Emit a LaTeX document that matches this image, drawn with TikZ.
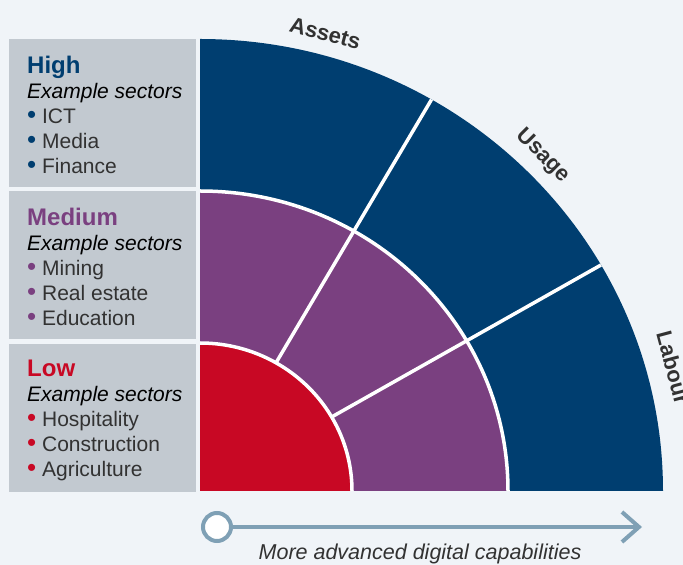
\documentclass[tikz,border=0pt]{standalone}
\usepackage{fontspec}
\setmainfont{Liberation Sans}
\usepackage{xcolor}
\usetikzlibrary{arrows.meta}
\definecolor{myblue}{RGB}{0, 62, 112}
\definecolor{mypurple}{RGB}{122, 64, 128}
\definecolor{myred}{RGB}{200, 8, 36}
\definecolor{mygray}{RGB}{194, 201, 208}
\definecolor{mybg}{RGB}{240, 244, 248}
\definecolor{myarrow}{RGB}{127, 160, 181}
\definecolor{mytext}{RGB}{50, 50, 50}

\begin{document}
\begin{tikzpicture}[x=1pt,y=1pt,
    levelbox/.style={fill=mygray, anchor=north west, minimum width=187pt, minimum height=148pt, inner sep=0pt},
    leveltext/.style={anchor=west, inner sep=0pt, align=left,
        font=\fontsize{21}{25}\selectfont, text=mytext},
    gap/.style={white, line width=3.5pt},
    ringlabel/.style={font=\bfseries\fontsize{22}{24}\selectfont, text=mytext}]
    \useasboundingbox[fill=mybg] (0,0) rectangle (683,565);

    % Left column: one box per level
    \foreach \ypos/\col/\level/\a/\b/\c/\name in {
        526/myblue/High/ICT/Media/Finance/high,
        374/mypurple/Medium/Mining/Real estate/Education/medium,
        221/myred/Low/Hospitality/Construction/Agriculture/low}{
        \node[levelbox] (\name) at (9,\ypos) {};
        \node[leveltext] (\name-text) at ([xshift=18pt,yshift=-2pt]\name.west) {%
            {\fontsize{24}{25}\selectfont\bfseries\color{\col}\level}\\
            {\itshape\color{black}Example sectors}\\
            \textcolor{\col}{\fontsize{26}{25}\selectfont•}~\a\\
            \textcolor{\col}{\fontsize{26}{25}\selectfont•}~\b\\
            \textcolor{\col}{\fontsize{26}{25}\selectfont•}~\c};
    }

    % Quarter rings, outer one first
    \begin{scope}[shift={(200,74)}]
        \fill[myblue] (0,0) -- (463,0) arc[start angle=0, end angle=90, x radius=463, y radius=452] -- cycle;
        \fill[mypurple] (0,0) -- (308,0) arc[start angle=0, end angle=90, x radius=308, y radius=300] -- cycle;
        \fill[myred] (0,0) -- (152,0) arc[start angle=0, end angle=90, x radius=152, y radius=148] -- cycle;
        % white gaps between the rings and the parts
        \draw[gap] (152,0) arc[start angle=0, end angle=90, x radius=152, y radius=148];
        \draw[gap] (308,0) arc[start angle=0, end angle=90, x radius=308, y radius=300];
        \foreach \ang in {30,60}{
            \draw[gap] (\ang:152 and 148) -- (\ang:463 and 452);
        }
        % labels round the outer ring
        \node[ringlabel, rotate=-15] (assets) at (75:484 and 474) {Assets};
        \node[ringlabel, rotate=-45] (usage) at (45:485 and 474) {Usage};
        \node[ringlabel, rotate=-75] (labour) at (15:490 and 478) {Labour};
    \end{scope}

    % Arrow along the bottom
    \node[circle, draw=myarrow, fill=white, line width=4pt, minimum size=28pt, inner sep=0pt] (start) at (217,38) {};
    \coordinate (end) at (642,38);
    \draw[myarrow, line width=4pt, -{Straight Barb[length=17pt, width=30pt]}] (start) -- (end);
    \node[font=\itshape\fontsize{21.5}{24}\selectfont, text=mytext, anchor=base] (caption) at (420,5) {More advanced digital capabilities};
\end{tikzpicture}
\end{document}
